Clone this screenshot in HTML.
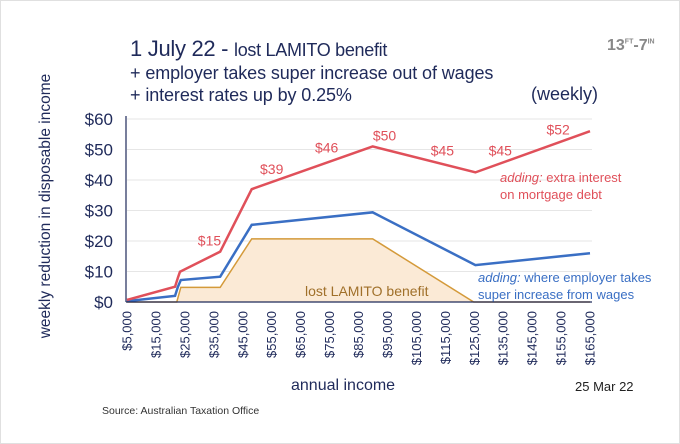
<!DOCTYPE html>
<html><head><meta charset="utf-8"><style>
body{margin:0;background:#fff}
#wrap{position:relative;width:678px;height:442px;border:1px solid #e0e0e0;background:#fff;overflow:hidden;font-family:"Liberation Sans",sans-serif;color:#1f2a5a}
.t{position:absolute;white-space:nowrap}
</style></head><body>
<div id="wrap">
<div class="t" style="left:129px;top:35px;font-size:22px;letter-spacing:-0.3px">1 July 22 - <span style="font-size:18px">lost LAMITO benefit</span></div>
<div class="t" style="left:129px;top:62px;font-size:18px;letter-spacing:-0.1px">+ employer takes super increase out of wages</div>
<div class="t" style="left:129px;top:84px;font-size:18px;letter-spacing:-0.1px">+ interest rates up by 0.25%</div>
<div class="t" style="left:530px;top:83px;font-size:18px">(weekly)</div>
<div class="t" style="left:606px;top:36px;font-size:16px;color:#888;font-weight:bold">13<sup style="font-size:7px">FT</sup>-7<sup style="font-size:7px">IN</sup></div>
<div class="t" style="left:45px;top:205px;font-size:15.5px;transform:translate(-50%,-50%) rotate(-90deg)">weekly reduction in disposable income</div>
<div class="t" style="left:290px;top:376px;font-size:16px">annual income</div>
<div class="t" style="left:574px;top:378px;font-size:13px;color:#222">25 Mar 22</div>
<div class="t" style="left:101px;top:404px;font-size:10.5px;color:#333">Source: Australian Taxation Office</div>
<svg id="chart" width="680" height="444" style="position:absolute;left:-1px;top:-1px"></svg>
</div>
<script>
const incomes=[5000,15000,25000,35000,45000,55000,65000,75000,85000,95000,105000,115000,125000,135000,145000,155000,165000];
const yTicks=[0,10,20,30,40,50,60];
const redX=[5000,21600,22600,23300,37200,48100,89900,125400,165000];
const redY=[0.7,5,8,9.9,16.5,37,51,42.5,56];
const blueX=[5000,21600,22600,23600,37200,48100,89900,125400,165000];
const blueY=[0.3,2,5,7.2,8.3,25.3,29.4,12.1,16];
const orX=[5000,22200,23600,37200,48100,89900,124800,165000];
const orY=[0,0,4.8,4.8,20.7,20.7,0,0];
const lblX=[33500,55000,74000,94000,114000,134000,154000];
const lblY=[18.5,42,49,53,48,48,55];
const lblT=["$15","$39","$46","$50","$45","$45","$52"];
const NS="http://www.w3.org/2000/svg";
const svg=document.getElementById('chart');
const X=v=>127+(v-5000)/160000*463;
const Y=v=>302-v*3.05;
function mk(t,a){const e=document.createElementNS(NS,t);for(const k in a)e.setAttribute(k,a[k]);svg.appendChild(e);return e;}
yTicks.forEach(v=>{
 if(v>0){const g=mk('line',{x1:127,x2:592,y1:Y(v),y2:Y(v),stroke:'#e6e6e6','stroke-width':1});
 
 }
 const t=mk('text',{x:113,y:Y(v)+6,'text-anchor':'end','font-size':17,fill:'#1f2a5a','font-family':'Liberation Sans'});
 t.textContent='$'+v;
 
 
});
const pts=(xs,ys)=>xs.map((x,i)=>X(x)+','+Y(ys[i])).join(' ');
const area=mk('polygon',{points:pts(orX,orY)+' '+X(165000)+','+Y(0)+' '+X(5000)+','+Y(0),fill:'#fbead6'});


const ol=mk('polyline',{points:pts(orX,orY),fill:'none',stroke:'#d49a3a','stroke-width':1.5});


const bl=mk('polyline',{points:pts(blueX,blueY),fill:'none',stroke:'#3a6fc4','stroke-width':2.5});


const rl=mk('polyline',{points:pts(redX,redY),fill:'none',stroke:'#e0505a','stroke-width':2.5});


const ax=mk('line',{x1:126,x2:126,y1:116,y2:302,stroke:'#1f2a5a','stroke-width':1.2});


const bx=mk('line',{x1:126,x2:592,y1:302,y2:302,stroke:'#1f2a5a','stroke-width':1.2});


incomes.forEach(v=>{
 const t=mk('text',{x:0,y:0,'text-anchor':'end','font-size':13,fill:'#1f2a5a','font-family':'Liberation Sans',transform:`translate(${X(v)+4.5},311) rotate(-90)`});
 t.textContent='$'+v.toLocaleString('en-US');
 
 
});
lblT.forEach((s,i)=>{
 const t=mk('text',{x:X(lblX[i]),y:Y(lblY[i]),'text-anchor':'middle','font-size':14,fill:'#e0505a','font-family':'Liberation Sans'});
 t.textContent=s;
 
 
});
function ann(x,y,parts,col,name){const t=mk('text',{x:x,y:y,'font-size':13,fill:col,'font-family':'Liberation Sans'});
 parts.forEach(p=>{const s=document.createElementNS(NS,'tspan');if(p[1])s.setAttribute('font-style','italic');s.textContent=p[0];t.appendChild(s);});
 
 }
ann(500,182,[['adding:',1],[' extra interest',0]],'#e0505a','interest-annotation-1');
ann(500,199,[['on mortgage debt',0]],'#e0505a','interest-annotation-2');
ann(478,282,[['adding:',1],[' where employer takes',0]],'#3a6fc4','super-annotation-1');
ann(478,299,[['super increase from wages',0]],'#3a6fc4','super-annotation-2');
const lt=mk('text',{x:305,y:296,'font-size':14,fill:'#a0702a','font-family':'Liberation Sans'});
lt.textContent='lost LAMITO benefit';


</script>
</body></html>
